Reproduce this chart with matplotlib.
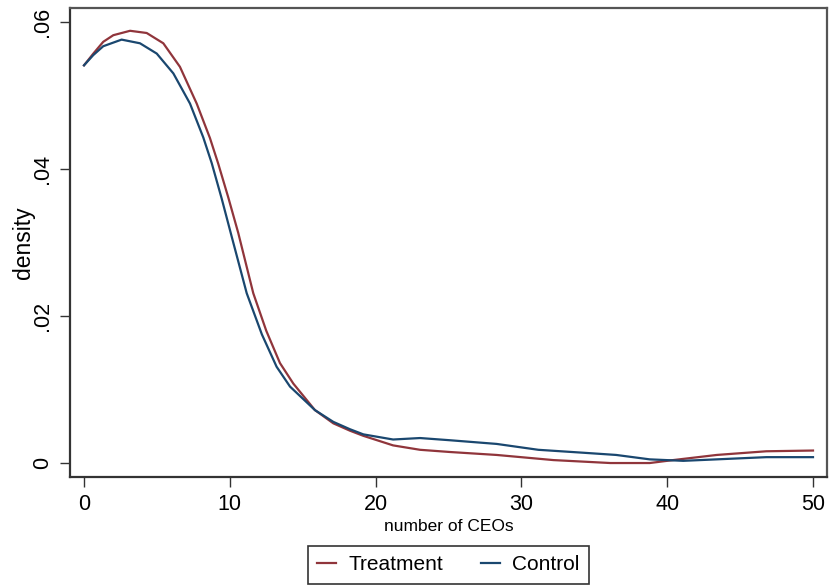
import numpy as np
import matplotlib.pyplot as plt

plt.rcParams['font.family'] = ['Liberation Sans', 'DejaVu Sans']

# values (kernel density of number of CEOs)
treat_x = [0, 0.64, 1.32, 2.01, 3.16, 4.3, 5.44, 6.58, 7.73, 8.64, 9.21, 9.9,
           10.58, 11.61, 12.5, 13.44, 14.36, 15.84, 17.1, 18.24, 19.16, 21.2,
           23.05, 25.1, 28.3, 32.2, 36.1, 38.8, 40.4, 43.4, 46.8, 50]
treat_y = [0.0541, 0.0557, 0.0573, 0.0582, 0.0588, 0.0585, 0.0571, 0.0539,
           0.0489, 0.0442, 0.0407, 0.0361, 0.0313, 0.0231, 0.0180, 0.0136,
           0.0108, 0.0072, 0.0054, 0.0044, 0.0037, 0.0024, 0.0018, 0.0015,
           0.0011, 0.0004, 0.0000, 0.0000, 0.0004, 0.0011, 0.0016, 0.0017]

ctrl_x = [0, 0.64, 1.32, 2.58, 3.84, 4.99, 6.13, 7.27, 8.18, 8.76, 9.44,
          10.13, 11.16, 12.2, 13.21, 14.13, 15.84, 17.1, 18.24, 19.16, 21.2,
          23.05, 25.1, 28.3, 31.16, 34.25, 36.5, 38.8, 41.1, 43.4, 46.8, 50]
ctrl_y = [0.0541, 0.0555, 0.0567, 0.0576, 0.0571, 0.0557, 0.0530, 0.0489,
          0.0443, 0.0408, 0.0360, 0.0308, 0.0231, 0.0175, 0.0131, 0.0104,
          0.0072, 0.0056, 0.0046, 0.0039, 0.0032, 0.0034, 0.0031, 0.0026,
          0.0018, 0.0014, 0.0011, 0.0005, 0.0003, 0.0005, 0.0008, 0.0008]

x_ticks = [0, 10, 20, 30, 40, 50]
y_ticks = [0, 0.02, 0.04, 0.06]
y_tick_labels = ["0", ".02", ".04", ".06"]

fig = plt.figure(figsize=(8.31, 5.87), dpi=100)
ax = fig.add_axes([70 / 831, 1 - 477 / 587, 757 / 831, 469 / 587])

ax.plot(treat_x, treat_y, color="#90353B", lw=1.6, label="Treatment")
ax.plot(ctrl_x, ctrl_y, color="#1A476F", lw=1.6, label="Control")

ax.set_xlim(-0.96, 50.96)
ax.set_ylim(-0.0019, 0.0619)

ax.set_xticks(x_ticks)
ax.set_yticks(y_ticks)
ax.set_yticklabels(y_tick_labels, rotation=90, va="center")
ax.tick_params(axis="both", direction="out", length=7, width=1, color="#333333",
               labelsize=15.5, pad=5)

for side in ["left", "bottom"]:
    ax.spines[side].set_color("#333333")
    ax.spines[side].set_linewidth(1.6)
for side in ["top", "right"]:
    ax.spines[side].set_color("#555555")
    ax.spines[side].set_linewidth(1.6)

ax.set_xlabel("number of CEOs", fontsize=12.5, labelpad=3)
ax.set_ylabel("density", fontsize=16.5, labelpad=-2)

handles, labels = ax.get_legend_handles_labels()
leg = fig.legend(handles, labels, loc="center", ncol=2,
                 bbox_to_anchor=(448.5 / 831, 1 - 565 / 587),
                 fontsize=15, handlelength=0.9, handletextpad=0.6,
                 columnspacing=1.8, borderpad=0.45, fancybox=False,
                 framealpha=1, edgecolor="#333333")
leg.get_frame().set_linewidth(1.2)

fig.savefig("out.png", dpi=100)
